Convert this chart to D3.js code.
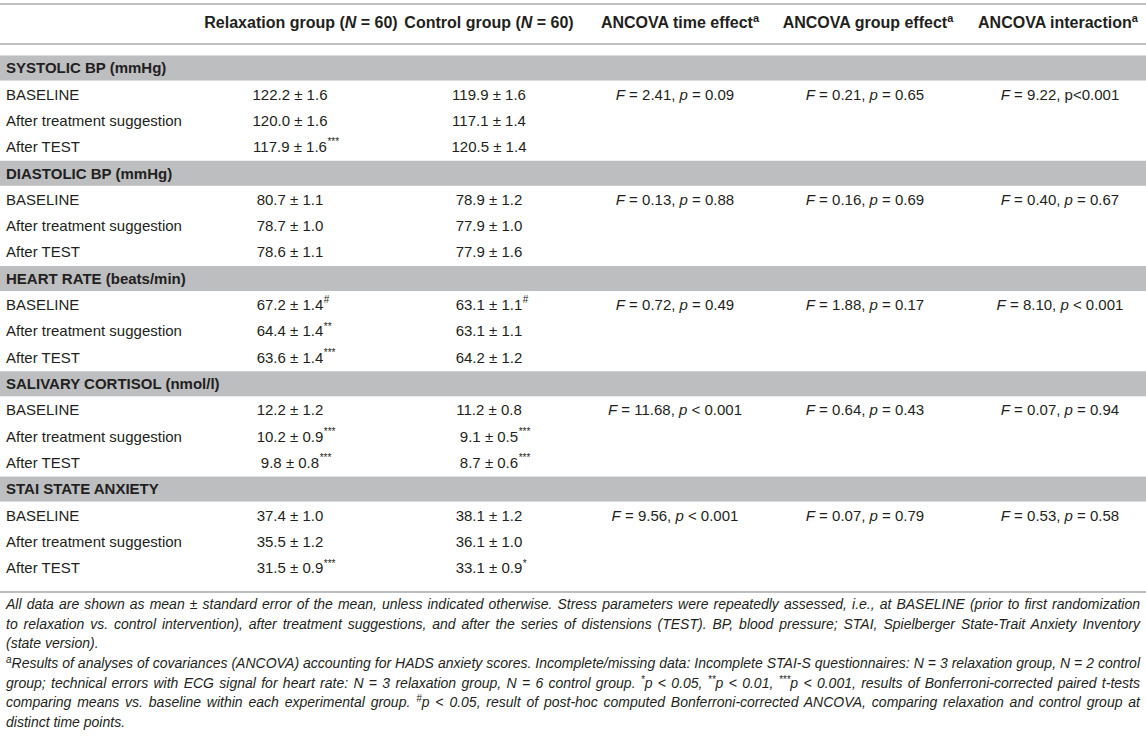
<!DOCTYPE html>
<html>
  <head>
    <meta charset="utf-8" />
    <script src="https://d3js.org/d3.v7.min.js"></script>
    <style>
      body { margin: 0; background: #fff; }
      svg text { font-family: "Liberation Sans", Arial, Helvetica, sans-serif; fill: #231f20; }
    </style>
  </head>
  <body>
    <svg id="table"></svg>
    <script>
      // Table contents
      var headers = ["Relaxation group (N = 60)", "Control group (N = 60)", "ANCOVA time effect", "ANCOVA group effect", "ANCOVA interaction"];
      var sections = ["SYSTOLIC BP (mmHg)", "DIASTOLIC BP (mmHg)", "HEART RATE (beats/min)", "SALIVARY CORTISOL (nmol/l)", "STAI STATE ANXIETY"];
      var timePoints = ["BASELINE", "After treatment suggestion", "After TEST"];

      var relaxMean = [[122.2, 120.0, 117.9], [80.7, 78.7, 78.6], [67.2, 64.4, 63.6], [12.2, 10.2, 9.8], [37.4, 35.5, 31.5]];
      var relaxSE = [[1.6, 1.6, 1.6], [1.1, 1.0, 1.1], [1.4, 1.4, 1.4], [1.2, 0.9, 0.8], [1.0, 1.2, 0.9]];
      var relaxSig = [["", "", "***"], ["", "", ""], ["#", "**", "***"], ["", "***", "***"], ["", "", "***"]];

      var ctrlMean = [[119.9, 117.1, 120.5], [78.9, 77.9, 77.9], [63.1, 63.1, 64.2], [11.2, 9.1, 8.7], [38.1, 36.1, 33.1]];
      var ctrlSE = [[1.6, 1.4, 1.4], [1.2, 1.0, 1.6], [1.1, 1.1, 1.2], [0.8, 0.5, 0.6], [1.2, 1.0, 0.9]];
      var ctrlSig = [["", "", ""], ["", "", ""], ["#", "", ""], ["", "***", "***"], ["", "", "*"]];

      var timeF = ["2.41", "0.13", "0.72", "11.68", "9.56"];
      var timeP = [" = 0.09", " = 0.88", " = 0.49", " < 0.001", " < 0.001"];
      var groupF = ["0.21", "0.16", "1.88", "0.64", "0.07"];
      var groupP = [" = 0.65", " = 0.69", " = 0.17", " = 0.43", " = 0.79"];
      var interF = ["9.22", "0.40", "8.10", "0.07", "0.53"];
      var interP = ["<0.001", " = 0.67", " < 0.001", " = 0.94", " = 0.58"];
      var interPItalic = [false, true, true, true, true];

      // footnote lines, ^...^ marks superscript
      var notes = [
        "All data are shown as mean \u00b1 standard error of the mean, unless indicated otherwise. Stress parameters were repeatedly assessed, i.e., at BASELINE (prior to first randomization",
        "to relaxation vs. control intervention), after treatment suggestions, and after the series of distensions (TEST). BP, blood pressure; STAI, Spielberger State-Trait Anxiety Inventory",
        "(state version).",
        "^a^Results of analyses of covariances (ANCOVA) accounting for HADS anxiety scores. Incomplete/missing data: Incomplete STAI-S questionnaires: N = 3 relaxation group, N = 2 control",
        "group; technical errors with ECG signal for heart rate: N = 3 relaxation group, N = 6 control group. ^*^p < 0.05, ^**^p < 0.01, ^***^p < 0.001, results of Bonferroni-corrected paired t-tests",
        "comparing means vs. baseline within each experimental group. ^#^p < 0.05, result of post-hoc computed Bonferroni-corrected ANCOVA, comparing relaxation and control group at",
        "distinct time points."
      ];
      var notesJustified = [true, true, false, true, true, true, false];

      var width = 1146;
      var height = 740;
      var grey = "#bcbec0";

      var svg = d3.select("#table").attr("width", width).attr("height", height);

      // column centers (header, values)
      var headX = [301, 489, 680, 868, 1058];
      var valX = [290, 489, 675, 865, 1060];

      // row positions: 5 sections x (1 title + 3 rows)
      var y = d3.scaleLinear().domain([0, 19]).range([68, 568]);

      // horizontal rules
      [4, 44, 592].forEach(function (ly) {
        svg.append("rect").attr("x", 0).attr("y", ly - 1).attr("width", width).attr("height", 2).attr("fill", grey);
      });

      // header row
      headers.forEach(function (h, i) {
        var t = svg.append("text")
          .attr("x", headX[i]).attr("y", 22).attr("dy", "0.35em")
          .attr("text-anchor", "middle")
          .style("font-size", "16px").style("font-weight", "bold");
        if (i < 2) {
          var parts = h.split("N");
          t.append("tspan").text(parts[0]);
          t.append("tspan").style("font-style", "italic").text("N");
          t.append("tspan").text(parts[1]);
        } else {
          t.append("tspan").text(h);
          t.append("tspan").attr("dy", -6).style("font-size", "11px").text("a");
        }
      });

      // write "F = x, p = y"
      function statCell(x, yy, f, p, pItalic) {
        var t = svg.append("text")
          .attr("x", x).attr("y", yy).attr("dy", "0.35em")
          .attr("text-anchor", "middle").style("font-size", "15px");
        t.append("tspan").style("font-style", "italic").text("F");
        t.append("tspan").text(" = " + f + ", ");
        t.append("tspan").style("font-style", pItalic ? "italic" : "normal").text("p");
        t.append("tspan").text(p);
      }

      // write "mean ± se" with trailing superscript
      function valueCell(x, yy, m, s, sig) {
        var t = svg.append("text")
          .attr("x", x).attr("y", yy).attr("dy", "0.35em")
          .attr("text-anchor", "middle").style("font-size", "15px")
          .text(m.toFixed(1) + " \u00b1 " + s.toFixed(1));
        if (sig) {
          var w = t.node().getComputedTextLength();
          svg.append("text")
            .attr("x", x + w / 2 + 0.5).attr("y", yy - 5).attr("dy", "0.35em")
            .style("font-size", "10px")
            .text(sig);
        }
      }

      sections.forEach(function (sec, si) {
        var k = si * 4;
        svg.append("rect")
          .attr("x", 0).attr("y", y(k) - 12.5)
          .attr("width", width).attr("height", 25)
          .attr("fill", grey);
        svg.append("text")
          .attr("x", 6).attr("y", y(k)).attr("dy", "0.35em")
          .style("font-size", "15px").style("font-weight", "bold")
          .text(sec);

        timePoints.forEach(function (tp, ti) {
          var ry = y(k + 1 + ti);
          svg.append("text")
            .attr("x", 6).attr("y", ry).attr("dy", "0.35em")
            .style("font-size", "15px")
            .text(tp);
          valueCell(valX[0], ry, relaxMean[si][ti], relaxSE[si][ti], relaxSig[si][ti]);
          valueCell(valX[1], ry, ctrlMean[si][ti], ctrlSE[si][ti], ctrlSig[si][ti]);
        });

        var fy = y(k + 1);
        statCell(valX[2], fy, timeF[si], timeP[si], true);
        statCell(valX[3], fy, groupF[si], groupP[si], true);
        statCell(valX[4], fy, interF[si], interP[si], interPItalic[si]);
      });

      // footnotes, justified to the table width
      var noteY = d3.scaleLinear().domain([0, 6]).range([609, 727]);
      notes.forEach(function (line, li) {
        var t = svg.append("text")
          .attr("x", 6).attr("y", noteY(li)).attr("dy", "0.35em")
          .style("font-size", "14px").style("font-style", "italic");
        var shift = 0;
        line.split("^").forEach(function (part, pi) {
          if (part === "") return;
          if (pi % 2 === 1) {
            t.append("tspan").attr("dy", -5 - shift).style("font-size", "10px").text(part);
            shift = -5;
          } else {
            t.append("tspan").attr("dy", -shift).text(part);
            shift = 0;
          }
        });
        if (notesJustified[li]) {
          var w = t.node().getComputedTextLength();
          var spaces = line.split(" ").length - 1;
          t.style("word-spacing", ((1140 - 6 - w) / spaces) + "px");
        }
      });
    </script>
  </body>
</html>
